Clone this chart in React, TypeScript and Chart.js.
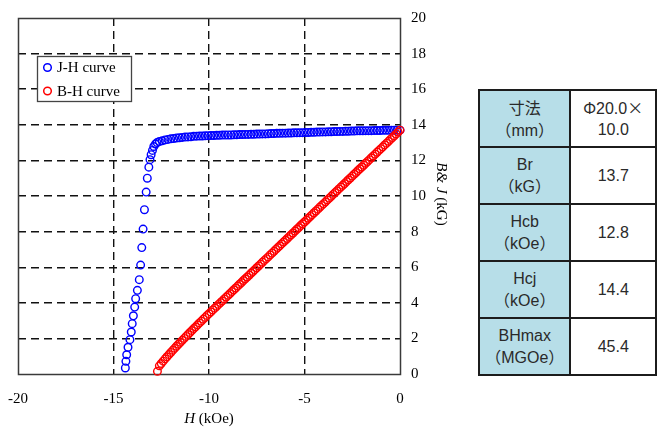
import React, { useEffect, useRef } from 'react';
import { Chart, registerables } from 'chart.js';

Chart.register(...registerables);

// ---- data ----
const seriesNames = ['J-H curve', 'B-H curve'];
const seriesColors = ['#0000ff', '#ff0000'];

const xTickRange = [-20, 0, 5]; // min, max, step (kOe)
const yTickRange = [0, 20, 2]; // min, max, step (kG)

const jhH = [
  -14.38, -14.35, -14.31, -14.24, -14.14, -14.07, -14.02, -13.96, -13.89, -13.84,
  -13.75, -13.65, -13.58, -13.52, -13.45, -13.38, -13.29, -13.23, -13.15, -13.09,
  -13.03, -12.96, -12.89, -12.8, -12.72,
  -12.6, -12.45, -12.3, -12.15, -12.0, -11.85, -11.7, -11.55, -11.4, -11.25,
  -11.1, -10.95, -10.8, -10.65, -10.5, -10.35, -10.2, -10.05,
  -9.9, -9.75, -9.6, -9.45, -9.3, -9.15, -9.0, -8.85, -8.7, -8.55,
  -8.4, -8.25, -8.1, -7.95, -7.8, -7.65, -7.5, -7.35, -7.2, -7.05,
  -6.9, -6.75, -6.6, -6.45, -6.3, -6.15, -6.0, -5.85, -5.7, -5.55,
  -5.4, -5.25, -5.1, -4.95, -4.8, -4.65, -4.5, -4.35, -4.2, -4.05,
  -3.9, -3.75, -3.6, -3.45, -3.3, -3.15, -3.0, -2.85, -2.7, -2.55,
  -2.4, -2.25, -2.1, -1.95, -1.8, -1.65, -1.5, -1.35, -1.2, -1.05,
  -0.9, -0.75, -0.6, -0.45, -0.3, -0.15, 0.0,
];
const jhJ = [
  0.34, 0.71, 1.08, 1.5, 1.93, 2.36, 2.83, 3.27, 3.76, 4.23,
  4.7, 5.3, 6.12, 7.1, 8.14, 9.23, 10.22, 11.0, 11.62, 12.04,
  12.32, 12.56, 12.78, 12.92, 13.0,
  13.06, 13.1, 13.15, 13.18, 13.21, 13.23, 13.26, 13.27, 13.29, 13.31,
  13.32, 13.33, 13.35, 13.36, 13.37, 13.37, 13.38, 13.39,
  13.4, 13.4, 13.41, 13.41, 13.42, 13.42, 13.43, 13.43, 13.44, 13.44,
  13.45, 13.45, 13.46, 13.46, 13.47, 13.47, 13.48, 13.48, 13.49, 13.49,
  13.5, 13.51, 13.51, 13.52, 13.52, 13.53, 13.53, 13.54, 13.54, 13.55,
  13.55, 13.56, 13.56, 13.57, 13.57, 13.58, 13.58, 13.59, 13.59, 13.6,
  13.6, 13.61, 13.61, 13.62, 13.62, 13.63, 13.63, 13.64, 13.64, 13.65,
  13.65, 13.66, 13.66, 13.66, 13.67, 13.67, 13.67, 13.68, 13.68, 13.68,
  13.69, 13.69, 13.69, 13.7, 13.7, 13.7, 13.7,
];

const bhH = [
  -12.7, -12.6, -12.5, -12.4, -12.3, -12.2, -12.1, -12.0, -11.9, -11.8,
  -11.7, -11.6, -11.5, -11.4, -11.3, -11.2, -11.1, -11.0, -10.9, -10.8,
  -10.7, -10.6, -10.5, -10.4, -10.3, -10.2, -10.1, -10.0, -9.9, -9.8,
  -9.7, -9.6, -9.5, -9.4, -9.3, -9.2, -9.1, -9.0, -8.9, -8.8,
  -8.7, -8.6, -8.5, -8.4, -8.3, -8.2, -8.1, -8.0, -7.9, -7.8,
  -7.7, -7.6, -7.5, -7.4, -7.3, -7.2, -7.1, -7.0, -6.9, -6.8,
  -6.7, -6.6, -6.5, -6.4, -6.3, -6.2, -6.1, -6.0, -5.9, -5.8,
  -5.7, -5.6, -5.5, -5.4, -5.3, -5.2, -5.1, -5.0, -4.9, -4.8,
  -4.7, -4.6, -4.5, -4.4, -4.3, -4.2, -4.1, -4.0, -3.9, -3.8,
  -3.7, -3.6, -3.5, -3.4, -3.3, -3.2, -3.1, -3.0, -2.9, -2.8,
  -2.7, -2.6, -2.5, -2.4, -2.3, -2.2, -2.1, -2.0, -1.9, -1.8,
  -1.7, -1.6, -1.5, -1.4, -1.3, -1.2, -1.1, -1.0, -0.9, -0.8,
  -0.7, -0.6, -0.5, -0.4, -0.3, -0.2, -0.1, 0.0,
];
const bhB = [
  0.15, 0.46, 0.59, 0.72, 0.85, 0.97, 1.09, 1.21, 1.33, 1.44,
  1.56, 1.67, 1.78, 1.89, 2.0, 2.11, 2.22, 2.33, 2.44, 2.55,
  2.65, 2.76, 2.87, 2.97, 3.08, 3.18, 3.29, 3.39, 3.49, 3.6,
  3.7, 3.8, 3.91, 4.01, 4.11, 4.22, 4.32, 4.42, 4.52, 4.63,
  4.73, 4.83, 4.94, 5.04, 5.14, 5.25, 5.35, 5.45, 5.55, 5.66,
  5.76, 5.86, 5.97, 6.07, 6.17, 6.28, 6.38, 6.48, 6.58, 6.69,
  6.79, 6.89, 7.0, 7.1, 7.2, 7.31, 7.41, 7.51, 7.61, 7.72,
  7.82, 7.92, 8.03, 8.13, 8.23, 8.34, 8.44, 8.54, 8.64, 8.75,
  8.85, 8.95, 9.06, 9.16, 9.26, 9.37, 9.47, 9.57, 9.67, 9.78,
  9.88, 9.98, 10.09, 10.19, 10.29, 10.4, 10.5, 10.6, 10.7, 10.81,
  10.91, 11.01, 11.12, 11.22, 11.32, 11.43, 11.53, 11.63, 11.73, 11.84,
  11.94, 12.04, 12.15, 12.25, 12.35, 12.46, 12.56, 12.66, 12.76, 12.87,
  12.97, 13.07, 13.18, 13.28, 13.38, 13.49, 13.59, 13.7,
];

const tableLabels = [
  ['寸法', '（mm）'],
  ['Br', '（kG）'],
  ['Hcb', '（kOe）'],
  ['Hcj', '（kOe）'],
  ['BHmax', '（MGOe）'],
];
const tableValues = [['Φ20.0×', '10.0'], ['13.7'], ['12.8'], ['14.4'], ['45.4']];

// ---- styling ----
const SERIF = '"Liberation Serif", "Times New Roman", serif';
const SANS = '"Liberation Sans", "Noto Sans CJK JP", sans-serif';
const CJK = '"Noto Sans CJK JP", sans-serif';

// characters that a Japanese font sets full width
const WIDE = /[（）Φ×\u3000-\u9fff]/;

function MixedText({ text }: { text: string }) {
  const parts: { t: string; wide: boolean }[] = [];
  for (const ch of Array.from(text)) {
    const wide = WIDE.test(ch);
    const last = parts[parts.length - 1];
    if (last && last.wide === wide) last.t += ch;
    else parts.push({ t: ch, wide });
  }
  return (
    <>
      {parts.map((p, i) =>
        p.wide ? (
          <span
            key={i}
            style={{ fontFamily: CJK, fontFeatureSettings: '"fwid"', ...({ textSpacingTrim: 'space-all' } as any) }}
          >
            {p.t}
          </span>
        ) : (
          <span key={i}>{p.t}</span>
        )
      )}
    </>
  );
}

export default function App() {
  const ref = useRef<HTMLCanvasElement>(null);

  useEffect(() => {
    if (!ref.current) return;

    const framePlugin = {
      id: 'frame',
      beforeDatasetsDraw(chart: any) {
        const { ctx, chartArea: a } = chart;
        ctx.save();
        ctx.strokeStyle = '#3a3a3a';
        ctx.lineWidth = 1.5;
        ctx.strokeRect(
          Math.round(a.left) + 0.5,
          Math.round(a.top) + 0.5,
          Math.round(a.right - a.left),
          Math.round(a.bottom - a.top)
        );
        ctx.restore();
      },
    };

    const overlayPlugin = {
      id: 'overlay',
      afterDraw(chart: any) {
        const { ctx, chartArea: a } = chart;
        ctx.save();
        // legend
        const bx = 37.5, by = 56.5, bw = 94, bh = 45;
        ctx.fillStyle = '#fff';
        ctx.fillRect(bx, by, bw, bh);
        ctx.strokeStyle = '#444';
        ctx.lineWidth = 1.3;
        ctx.strokeRect(bx, by, bw, bh);
        ctx.font = `15px ${SERIF}`;
        ctx.textBaseline = 'middle';
        ctx.textAlign = 'left';
        const rowsY = [67.5, 91];
        seriesNames.forEach((n, i) => {
          ctx.beginPath();
          ctx.arc(47.5, rowsY[i], 3.8, 0, Math.PI * 2);
          ctx.strokeStyle = seriesColors[i];
          ctx.lineWidth = 1.5;
          ctx.stroke();
          ctx.fillStyle = '#000';
          ctx.fillText(n, 57, rowsY[i] + 1);
        });

        const drawMixed = (parts: [string, boolean][], cx: number, cy: number) => {
          let total = 0;
          const widths = parts.map(([t, it]) => {
            ctx.font = `${it ? 'italic ' : ''}15px ${SERIF}`;
            const w = ctx.measureText(t).width;
            total += w;
            return w;
          });
          let x = cx - total / 2;
          ctx.fillStyle = '#000';
          ctx.textAlign = 'left';
          ctx.textBaseline = 'middle';
          parts.forEach(([t, it], i) => {
            ctx.font = `${it ? 'italic ' : ''}15px ${SERIF}`;
            ctx.fillText(t, x, cy);
            x += widths[i];
          });
        };
        // x title
        drawMixed([['H', true], [' (kOe)', false]], (a.left + a.right) / 2, 419);

        // y title (rotated clockwise)
        ctx.save();
        ctx.translate(441, (a.top + a.bottom) / 2 - 2);
        ctx.rotate(Math.PI / 2);
        drawMixed([['B&', true], [' ', false], ['J', true], [' (kG)', false]], 0, 0);
        ctx.restore();

        ctx.restore();
      },
    };

    const edgeColor = (lo: number, hi: number) => (c: any) =>
      c.tick && (c.tick.value === lo || c.tick.value === hi) ? 'rgba(0,0,0,0)' : '#111';

    const pointStyle = (color: string) => ({
      showLine: false,
      pointStyle: 'circle',
      pointRadius: 3.8,
      pointHoverRadius: 3.8,
      pointBorderWidth: 1.4,
      pointBorderColor: color,
      pointBackgroundColor: 'rgba(0,0,0,0)',
      borderColor: color,
      backgroundColor: 'rgba(0,0,0,0)',
      clip: false as any,
    });

    const chart = new Chart(ref.current, {
      type: 'scatter',
      data: {
        datasets: [
          {
            label: seriesNames[0],
            data: jhH.map((h, i) => ({ x: h, y: jhJ[i] })),
            ...pointStyle(seriesColors[0]),
            order: 1,
          },
          {
            label: seriesNames[1],
            data: bhH.map((h, i) => ({ x: h, y: bhB[i] })),
            ...pointStyle(seriesColors[1]),
            order: 0,
          },
        ],
      },
      options: {
        responsive: false,
        animation: false,
        events: [],
        layout: { padding: { left: 18, top: 18, right: 0, bottom: 0 } },
        plugins: {
          legend: { display: false },
          tooltip: { enabled: false },
          title: { display: false },
        },
        scales: {
          x: {
            type: 'linear',
            position: 'bottom',
            min: xTickRange[0],
            max: xTickRange[1],
            afterFit: (s: any) => {
              s.height = 53;
              s.paddingLeft = 0;
              s.paddingRight = 0;
            },
            ticks: {
              stepSize: xTickRange[2],
              padding: 16,
              color: '#000',
              font: { family: SERIF, size: 15 },
              maxRotation: 0,
              autoSkip: false,
            },
            grid: {
              drawTicks: false,
              color: edgeColor(xTickRange[0], xTickRange[1]),
              lineWidth: 1.4,
            },
            border: { display: false, dash: [8, 5] },
            title: { display: false },
          },
          y: {
            type: 'linear',
            position: 'right',
            min: yTickRange[0],
            max: yTickRange[1],
            afterFit: (s: any) => {
              s.width = 70;
              s.paddingTop = 0;
              s.paddingBottom = 0;
            },
            ticks: {
              stepSize: yTickRange[2],
              padding: 11,
              color: '#000',
              font: { family: SERIF, size: 15 },
              autoSkip: false,
            },
            grid: {
              drawTicks: false,
              color: edgeColor(yTickRange[0], yTickRange[1]),
              lineWidth: 1.4,
            },
            border: { display: false, dash: [8, 5] },
            title: { display: false },
          },
        },
      } as any,
      plugins: [framePlugin, overlayPlugin],
    });

    return () => chart.destroy();
  }, []);

  const cellBase: any = {
    border: '2px solid #1c1c1c',
    width: 94,
    height: 55,
    padding: 0,
    textAlign: 'center',
    verticalAlign: 'middle',
    lineHeight: '21px',
    textSpacingTrim: 'space-all',
  };

  return (
    <div
      style={{
        position: 'fixed',
        left: 0,
        top: 0,
        width: 657,
        height: 427,
        overflow: 'hidden',
        background: '#fff',
      }}
    >
      <div style={{ position: 'absolute', left: 0, top: 0, width: 470, height: 427 }}>
        <canvas ref={ref} width={470} height={427} style={{ display: 'block' }} />
      </div>
      <table
        style={{
          position: 'absolute',
          left: 478,
          top: 89,
          borderCollapse: 'collapse',
          fontFamily: SANS,
          fontSize: 16,
          color: '#2a2a2a',
          tableLayout: 'fixed',
        }}
      >
        <tbody>
          {tableLabels.map((lab, i) => (
            <tr key={i}>
              <td style={{ ...cellBase, background: '#b7dee8' }}>
                {lab.map((t, j) => (
                  <div key={j} style={{ whiteSpace: 'nowrap' }}>
                    <MixedText text={t} />
                  </div>
                ))}
              </td>
              <td style={{ ...cellBase, background: '#fff' }}>
                {tableValues[i].map((t, j) => (
                  <div key={j} style={{ whiteSpace: 'nowrap' }}>
                    <MixedText text={t} />
                  </div>
                ))}
              </td>
            </tr>
          ))}
        </tbody>
      </table>
    </div>
  );
}
